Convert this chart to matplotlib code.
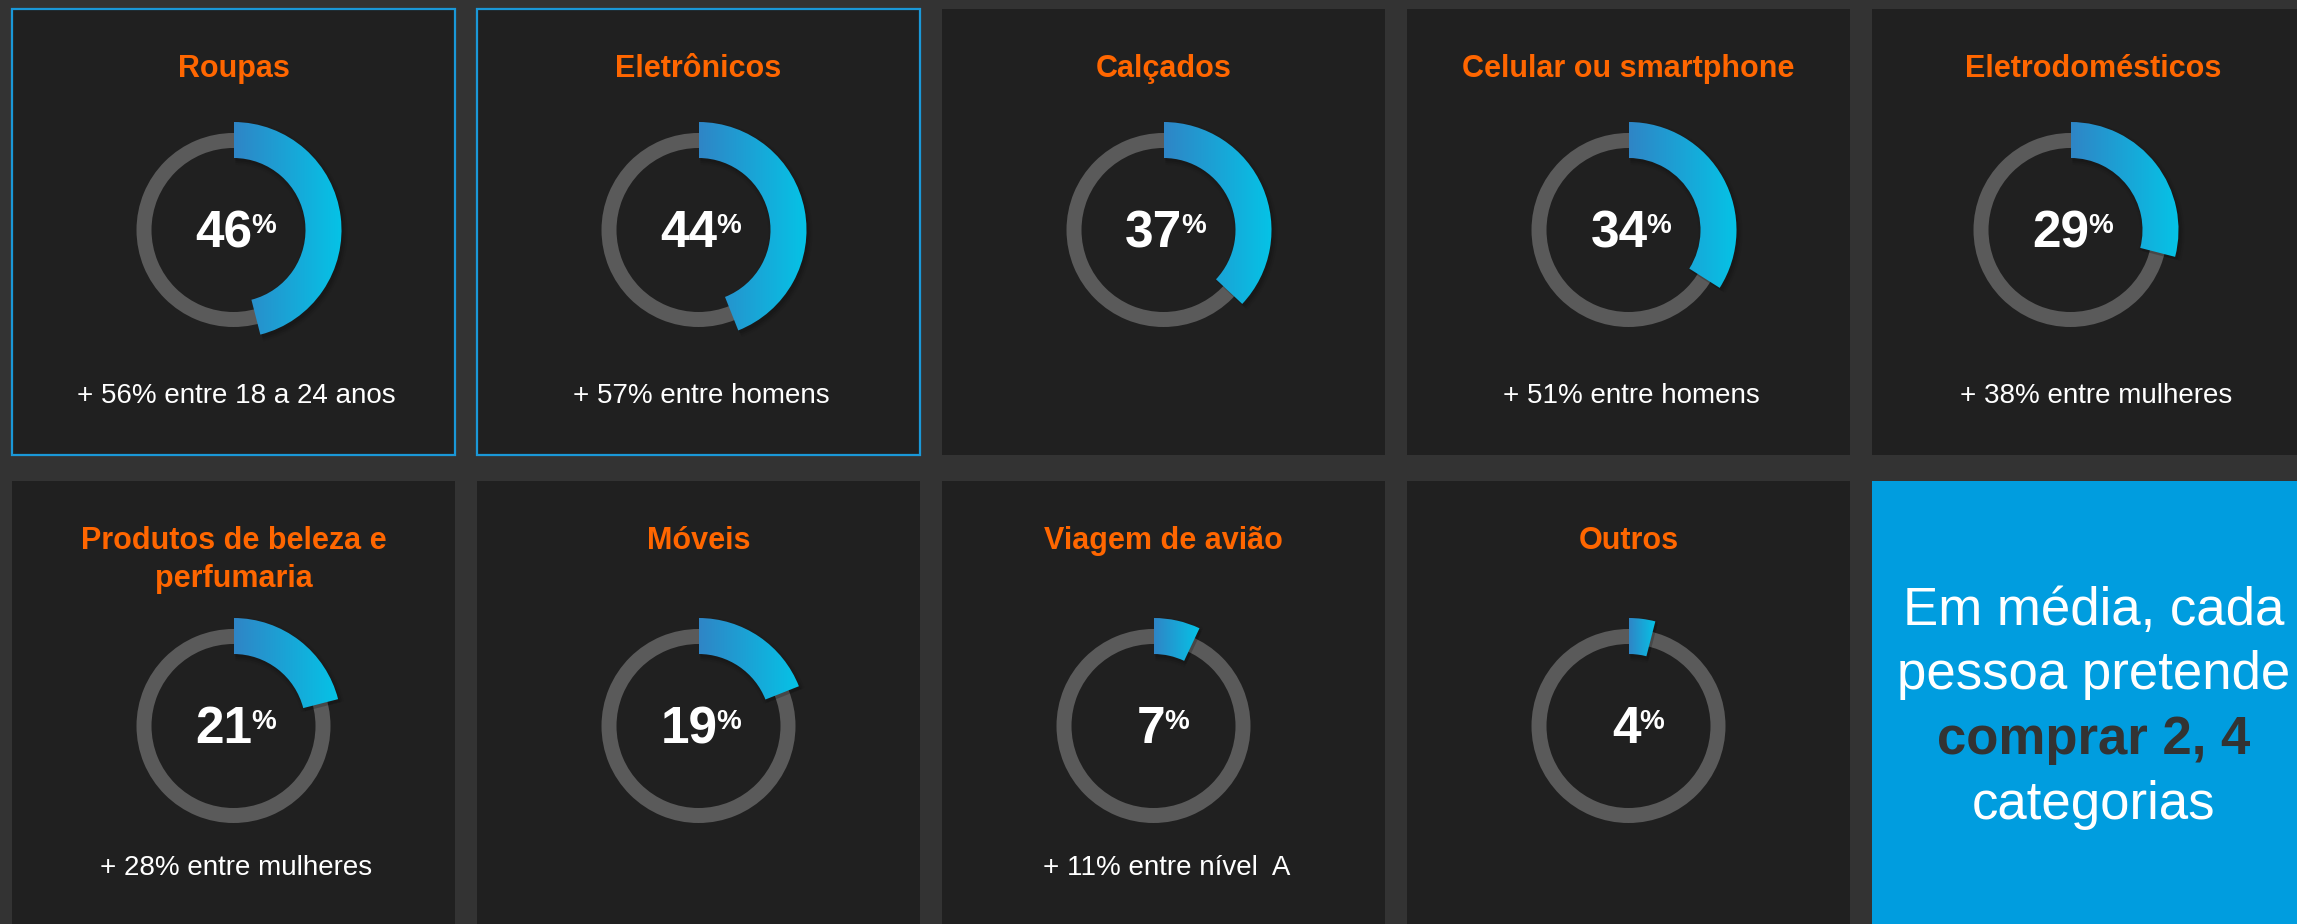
import numpy as np
import matplotlib
matplotlib.use("Agg")
import matplotlib.pyplot as plt
from matplotlib.patches import Rectangle, Wedge
from matplotlib.colors import LinearSegmentedColormap

plt.rcParams["font.family"] = ["Liberation Sans", "DejaVu Sans"]

# data
categories = ["Roupas", "Eletrônicos", "Calçados", "Celular ou smartphone",
              "Eletrodomésticos", "Produtos de beleza e\nperfumaria", "Móveis",
              "Viagem de avião", "Outros"]
values = [46, 44, 37, 34, 29, 21, 19, 7, 4]
notes = ["+ 56% entre 18 a 24 anos", "+ 57% entre homens", "",
         "+ 51% entre homens", "+ 38% entre mulheres", "+ 28% entre mulheres",
         "", "+ 11% entre nível  A", ""]
highlighted = ["Roupas", "Eletrônicos"]
summary_lines = ["Em média, cada", "pessoa pretende", "comprar 2, 4", "categorias"]

# layout (pixels)
W, H = 2297, 924
col_x = [12, 477, 942, 1407, 1872]
row_y = [9, 481]
pw, ph = 443, 446
gauge_cy = [230, 726]
gauge_dx = [0, 0, 0, 0, -23, 0, 0, -10, 0]

BG = "#333333"
PANEL = "#202020"
ORANGE = "#ff6600"
RING = "#5a5a5a"
BOX = "#009ddf"
grad = LinearSegmentedColormap.from_list("g", ["#2f85c6", "#05c3e6"])

fig = plt.figure(figsize=(W / 100, H / 100), dpi=100)
fig.patch.set_facecolor(BG)
ax = fig.add_axes([0, 0, 1, 1])
ax.set_facecolor(BG)
ax.axis("off")


def gauge(cx, cy, pct):
    ax.add_patch(Wedge((cx, cy), 97, 0, 360, width=15, facecolor=RING,
                       edgecolor="none", zorder=2))
    t1, t2 = -90, -90 + 360 * pct / 100
    # soft shadow
    for k, a in enumerate([0.10, 0.07, 0.04]):
        ax.add_patch(Wedge((cx + 2, cy + 3), 108 + 2 * k, t1, t2, width=36 + 4 * k,
                           facecolor="black", edgecolor="none", alpha=a, zorder=2.5))
    w = Wedge((cx, cy), 108, t1, t2, width=36, facecolor="none",
              edgecolor="none", zorder=3)
    ax.add_patch(w)
    th = np.radians(np.linspace(t1, t2, 200))
    xs = np.concatenate([cx + 108 * np.cos(th), cx + 72 * np.cos(th)])
    im = ax.imshow(np.linspace(0, 1, 256).reshape(1, -1), cmap=grad, aspect="auto",
                   extent=[xs.min(), xs.max(), cy + 110, cy - 110], zorder=3,
                   interpolation="bilinear")
    im.set_clip_path(w)
    num = str(pct)
    off = 19 if len(num) > 1 else 12
    ax.text(cx + off, cy + 17, num, color="white", fontsize=37, fontweight="bold",
            ha="right", va="baseline", zorder=4)
    ax.text(cx + off - 1, cy + 3, "%", color="white", fontsize=20, fontweight="bold",
            ha="left", va="baseline", zorder=4)


for i, (cat, val, note) in enumerate(zip(categories, values, notes)):
    r, c = divmod(i, 5)
    x0, y0 = col_x[c], row_y[r]
    cx = x0 + pw / 2
    edge = "#1a98d8" if cat in highlighted else "none"
    ax.add_patch(Rectangle((x0, y0), pw, ph, facecolor=PANEL, edgecolor=edge,
                           linewidth=1.6, zorder=1))
    for j, line in enumerate(cat.split("\n")):
        ax.text(cx, y0 + 68 + 38 * j, line, color=ORANGE, fontsize=22,
                fontweight="bold", ha="center", va="baseline", zorder=4)
    gauge(cx + gauge_dx[i], gauge_cy[r], val)
    if note:
        ax.text(cx + 3, y0 + 394, note, color="white", fontsize=20, ha="center",
                va="baseline", zorder=4)

# summary box
bx, by = col_x[4], row_y[1]
ax.add_patch(Rectangle((bx, by), pw, ph, facecolor=BOX, edgecolor="none", zorder=1))
for j, line in enumerate(summary_lines):
    bold = line.startswith("comprar")
    ax.text(bx + pw / 2, 625 + 64.5 * j, line, fontsize=38,
            color="#333333" if bold else "white",
            fontweight="bold" if bold else "normal",
            ha="center", va="baseline", zorder=4)

ax.set_xlim(0, W)
ax.set_ylim(H, 0)
fig.savefig("out.png", dpi=100, facecolor=BG)
